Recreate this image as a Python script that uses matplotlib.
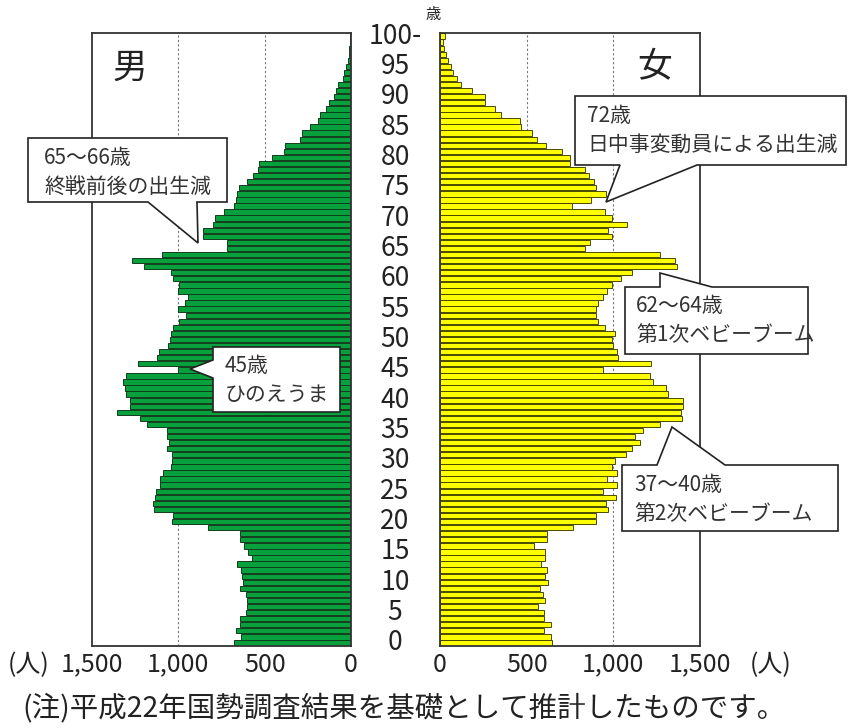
import matplotlib.pyplot as plt
import numpy as np
from matplotlib.patches import Polygon
from matplotlib import transforms

plt.rcParams['font.family'] = ['Noto Sans CJK JP', 'DejaVu Sans']

ages = np.arange(0, 101)

# 男 (人) 0歳 ～ 100歳以上
male = [680, 638, 665, 643, 645, 607, 605, 605, 610, 643,
        627, 634, 638, 661, 571, 594, 620, 643, 643, 829,
        1037, 1030, 1142, 1149, 1136, 1127, 1104, 1109, 1091, 1042,
        1037, 1037, 1068, 1053, 1064, 1064, 1180, 1221, 1355, 1280,
        1280, 1305, 1308, 1322, 1305, 1000, 1235, 1122, 1112, 1062,
        1050, 1041, 1030, 997, 955, 1000, 960, 945, 1000, 997,
        1030, 1042, 1200, 1268, 1095, 720, 720, 855, 858, 798,
        790, 736, 675, 665, 658, 648, 604, 565, 536, 531,
        460, 389, 383, 297, 282, 240, 192, 182, 144, 125,
        96, 86, 77, 48, 38, 29, 19, 13, 9, 6,
        4]

# 女 (人)
female = [648, 643, 600, 638, 600, 600, 568, 605, 593, 575,
          625, 606, 620, 580, 606, 604, 542, 618, 618, 768,
          900, 898, 970, 960, 1013, 940, 1021, 965, 1023, 995,
          1008, 1075, 1110, 1153, 1125, 1172, 1268, 1399, 1390, 1403,
          1403, 1316, 1305, 1226, 1212, 938, 1215, 1027, 1021, 998,
          995, 1008, 950, 910, 900, 902, 913, 938, 965, 994,
          1042, 1105, 1366, 1355, 1270, 836, 865, 995, 970, 1078,
          990, 952, 760, 872, 955, 900, 890, 860, 838, 750,
          748, 701, 610, 562, 530, 465, 461, 353, 316, 262,
          262, 185, 120, 100, 76, 62, 45, 32, 24, 20,
          30]

xticks = [0, 500, 1000, 1500]
xtick_labels = ['0', '500', '1,000', '1,500']
age_ticks = list(range(0, 101, 5))

W, H = 851, 728
fig = plt.figure(figsize=(W / 100, H / 100), dpi=100)

bottom = 1 - 646 / H
height = (646 - 33) / H
ax_l = fig.add_axes([92 / W, bottom, (351 - 92) / W, height])
ax_r = fig.add_axes([440 / W, bottom, (700 - 440) / W, height])

ax_l.barh(ages, male, height=0.88, color='#07a03c', edgecolor='#123d1e',
          linewidth=0.7, zorder=2)
ax_r.barh(ages, female, height=0.88, color='#ffff00', edgecolor='#4a4a00',
          linewidth=0.7, zorder=2)

ax_l.set_xlim(1500, 0)
ax_r.set_xlim(0, 1500)

for ax in (ax_l, ax_r):
    ax.set_ylim(-0.5, 100.5)
    ax.set_yticks([])
    ax.set_xticks(xticks)
    ax.set_xticklabels(xtick_labels, fontsize=18, color='#222222')
    ax.tick_params(axis='x', length=0, pad=4)
    for v in (500, 1000):
        ax.axvline(v, color='#777777', linestyle=(0, (2, 2)), linewidth=0.8,
                   zorder=1)
    for s in ax.spines.values():
        s.set_color('#333333')
        s.set_linewidth(1.3)

# age labels between the two panels
trans = transforms.blended_transform_factory(fig.transFigure, ax_l.transData)
for a in age_ticks:
    lbl = '100-' if a == 100 else str(a)
    ax_l.text(395 / W, a, lbl, transform=trans, ha='center', va='center',
              fontsize=19, color='#222222', clip_on=False)

# overlay in pixel coordinates for the callouts and free text
ov = fig.add_axes([0, 0, 1, 1], zorder=10)
ov.set_xlim(0, W)
ov.set_ylim(H, 0)
ov.axis('off')

ov.text(433, 14, '歳', fontsize=11, ha='center', va='center', color='#222222')
ov.text(130, 68, '男', fontsize=25, ha='center', va='center', color='#222222')
ov.text(655, 68, '女', fontsize=25, ha='center', va='center', color='#222222')
ov.text(8, 665, '(人)', fontsize=18, ha='left', va='center', color='#222222')
ov.text(750, 665, '(人)', fontsize=18, ha='left', va='center', color='#222222')
ov.text(22, 708, '(注)平成22年国勢調査結果を基礎として推計したものです。',
        fontsize=20.5, ha='left', va='center', color='#222222')

callouts = [
    ([(28, 138), (227, 138), (227, 202), (197, 202), (198, 243), (148, 202), (28, 202)],
     (44, 158), '65～66歳', '終戦前後の出生減'),
    ([(213, 347), (340, 347), (340, 412), (213, 412), (213, 378), (190, 369), (213, 360)],
     (225, 366), '45歳', 'ひのえうま'),
    ([(575, 96), (846, 96), (846, 165), (697, 165), (606, 202), (620, 165), (575, 165)],
     (587, 116), '72歳', '日中事変動員による出生減'),
    ([(625, 287), (660, 287), (660, 273), (712, 287), (808, 287), (808, 354), (625, 354)],
     (636, 306), '62～64歳', '第1次ベビーブーム'),
    ([(622, 465), (657, 465), (672, 427), (725, 465), (838, 465), (838, 531), (622, 531)],
     (634, 485), '37～40歳', '第2次ベビーブーム'),
]
for pts, (tx, ty), l1, l2 in callouts:
    ov.add_patch(Polygon(pts, closed=True, facecolor='white',
                         edgecolor='#222222', linewidth=1.2))
    ov.text(tx, ty, l1, fontsize=15, ha='left', va='center', color='#333333')
    ov.text(tx, ty + 29, l2, fontsize=15, ha='left', va='center', color='#333333')

plt.savefig('out.png', dpi=100)
